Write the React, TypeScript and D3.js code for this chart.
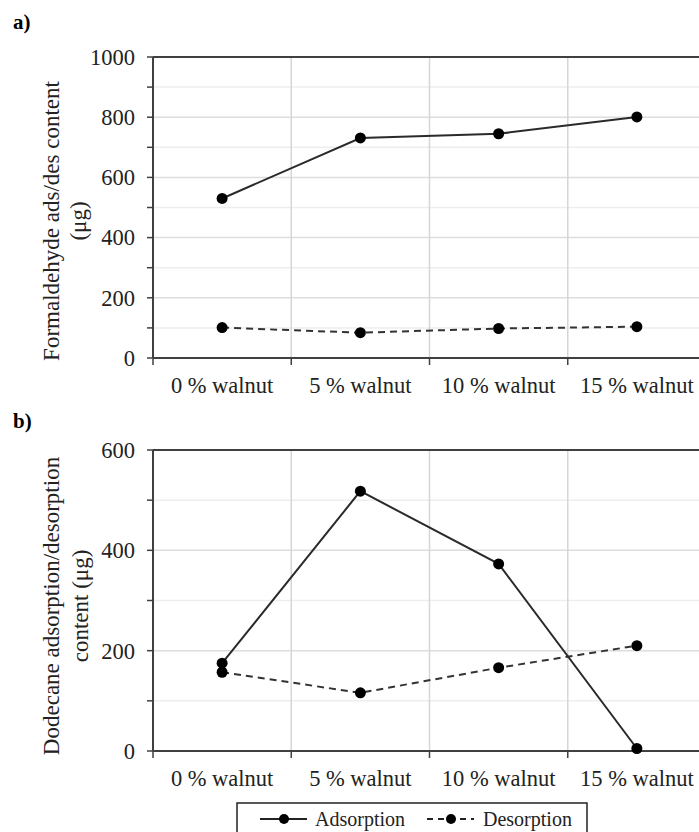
import React, { useEffect, useRef } from 'react';
import * as d3 from 'd3';

// categories and values
const categories = ['0 % walnut', '5 % walnut', '10 % walnut', '15 % walnut'];
const seriesNames = ['Adsorption', 'Desorption'];
const formaldehydeAdsorption = [530, 731, 745, 801];
const formaldehydeDesorption = [101, 84, 98, 104];
const dodecaneAdsorption = [175, 518, 373, 5];
const dodecaneDesorption = [157, 116, 166, 210];
const formaldehydeTicks = [0, 200, 400, 600, 800, 1000];
const dodecaneTicks = [0, 200, 400, 600];

const W = 699;
const H = 832;
const plotLeft = 153;
const plotRight = 706; // plot runs past the right edge of the picture
const font = '"Liberation Serif", "Times New Roman", serif';
const axisColor = '#404040';

type Panel = {
  tag: string;
  tagY: number;
  top: number;
  bottom: number;
  ticks: number[];
  ads: number[];
  des: number[];
  title: string[];
  titleX: number[];
  titleY: number;
};

const drawPanel = (svg: any, p: Panel) => {
  const max = d3.max(p.ticks) as number;
  const x = d3.scaleBand().domain(categories).range([plotLeft, plotRight]);
  const y = d3.scaleLinear().domain([0, max]).range([p.bottom, p.top]);
  const cx = (c: string) => (x(c) as number) + x.bandwidth() / 2;
  const minor = d3.range(0, max + 1, 100);

  const g = svg.append('g');

  // minor gridlines
  g.selectAll('.minor')
    .data(minor.filter(v => !p.ticks.includes(v)))
    .join('line')
    .attr('x1', plotLeft).attr('x2', W)
    .attr('y1', d => y(d)).attr('y2', d => y(d))
    .attr('stroke', '#eeeeee').attr('stroke-width', 1.5);

  // major gridlines
  g.selectAll('.major')
    .data(p.ticks.filter(v => v > 0 && v < max))
    .join('line')
    .attr('x1', plotLeft).attr('x2', W)
    .attr('y1', d => y(d)).attr('y2', d => y(d))
    .attr('stroke', '#dddddd').attr('stroke-width', 1.5);

  // vertical gridlines at category edges
  g.selectAll('.vgrid')
    .data(categories.slice(1))
    .join('line')
    .attr('x1', d => x(d)).attr('x2', d => x(d))
    .attr('y1', p.top).attr('y2', p.bottom)
    .attr('stroke', '#d6d6d6').attr('stroke-width', 1.5);

  // top border
  g.append('line')
    .attr('x1', plotLeft).attr('x2', W)
    .attr('y1', p.top).attr('y2', p.top)
    .attr('stroke', axisColor).attr('stroke-width', 2);

  // y axis
  g.append('line')
    .attr('x1', plotLeft).attr('x2', plotLeft)
    .attr('y1', p.top).attr('y2', p.bottom)
    .attr('stroke', axisColor).attr('stroke-width', 2);
  g.selectAll('.ytick')
    .data(minor)
    .join('line')
    .attr('x1', plotLeft - 6).attr('x2', plotLeft)
    .attr('y1', d => y(d)).attr('y2', d => y(d))
    .attr('stroke', axisColor).attr('stroke-width', 1.5);
  g.selectAll('.ylabel')
    .data(p.ticks)
    .join('text')
    .attr('x', 135)
    .attr('y', d => y(d))
    .attr('dy', '0.35em')
    .attr('text-anchor', 'end')
    .attr('font-family', font).attr('font-size', 22.5).attr('fill', '#222')
    .text(d => d);

  // x axis
  g.append('line')
    .attr('x1', plotLeft).attr('x2', W)
    .attr('y1', p.bottom).attr('y2', p.bottom)
    .attr('stroke', axisColor).attr('stroke-width', 2);
  g.selectAll('.xtick')
    .data(categories)
    .join('line')
    .attr('x1', d => x(d)).attr('x2', d => x(d))
    .attr('y1', p.bottom).attr('y2', p.bottom + 7)
    .attr('stroke', axisColor).attr('stroke-width', 1.5);
  g.selectAll('.xlabel')
    .data(categories)
    .join('text')
    .attr('x', d => cx(d))
    .attr('y', p.bottom + 35)
    .attr('text-anchor', 'middle')
    .attr('font-family', font).attr('font-size', 22.5).attr('fill', '#222')
    .text(d => d);

  // axis title, two lines
  p.title.forEach((t, i) => {
    g.append('text')
      .attr('transform', `translate(${p.titleX[i]}, ${p.titleY}) rotate(-90)`)
      .attr('text-anchor', 'middle')
      .attr('font-family', font).attr('font-size', 23).attr('fill', '#222')
      .text(t);
  });

  // panel tag
  g.append('text')
    .attr('x', 13).attr('y', p.tagY)
    .attr('font-family', font).attr('font-size', 21).attr('font-weight', 'bold')
    .text(p.tag);

  // series
  const line = d3.line<number>()
    .x((d, i) => cx(categories[i]))
    .y(d => y(d));

  g.append('path')
    .datum(p.des)
    .attr('fill', 'none')
    .attr('stroke', '#333')
    .attr('stroke-width', 2)
    .attr('stroke-dasharray', '7,5')
    .attr('d', line);
  g.append('path')
    .datum(p.ads)
    .attr('fill', 'none')
    .attr('stroke', '#2a2a2a')
    .attr('stroke-width', 2)
    .attr('d', line);

  [p.ads, p.des].forEach(vals => {
    g.selectAll(null)
      .data(vals)
      .join('circle')
      .attr('cx', (d, i) => cx(categories[i]))
      .attr('cy', d => y(d))
      .attr('r', 5.5)
      .attr('fill', '#000');
  });
};

const App = () => {
  const svgRef = useRef<SVGSVGElement>(null);

  useEffect(() => {
    const svg = d3.select(svgRef.current);
    svg.selectAll('*').remove();
    svg.append('rect').attr('width', W).attr('height', H).attr('fill', '#fff');

    drawPanel(svg, {
      tag: 'a)', tagY: 29,
      top: 57, bottom: 358,
      ticks: formaldehydeTicks,
      ads: formaldehydeAdsorption, des: formaldehydeDesorption,
      title: ['Formaldehyde ads/des content', '(μg)'],
      titleX: [59, 86], titleY: 221,
    });

    drawPanel(svg, {
      tag: 'b)', tagY: 428,
      top: 450, bottom: 751,
      ticks: dodecaneTicks,
      ads: dodecaneAdsorption, des: dodecaneDesorption,
      title: ['Dodecane adsorption/desorption', 'content (μg)'],
      titleX: [59, 88], titleY: 606,
    });

    // legend
    const leg = svg.append('g');
    leg.append('rect')
      .attr('x', 237).attr('y', 803).attr('width', 350).attr('height', 60)
      .attr('fill', '#fff').attr('stroke', '#222').attr('stroke-width', 1.5);
    const items = [
      { name: seriesNames[0], x0: 260, x1: 307, mx: 284, tx: 315, dash: null },
      { name: seriesNames[1], x0: 427, x1: 474, mx: 451, tx: 483, dash: '6,5' },
    ];
    items.forEach(it => {
      leg.append('line')
        .attr('x1', it.x0).attr('x2', it.x1).attr('y1', 819).attr('y2', 819)
        .attr('stroke', '#222').attr('stroke-width', 2)
        .attr('stroke-dasharray', it.dash);
      leg.append('circle').attr('cx', it.mx).attr('cy', 819).attr('r', 5).attr('fill', '#000');
      leg.append('text')
        .attr('x', it.tx).attr('y', 826)
        .attr('font-family', font).attr('font-size', 20).attr('fill', '#222')
        .text(it.name);
    });
  }, []);

  return (
    <svg
      ref={svgRef}
      width={W}
      height={H}
      style={{ position: 'absolute', left: 0, top: 0, display: 'block' }}
    />
  );
};

export default App;
